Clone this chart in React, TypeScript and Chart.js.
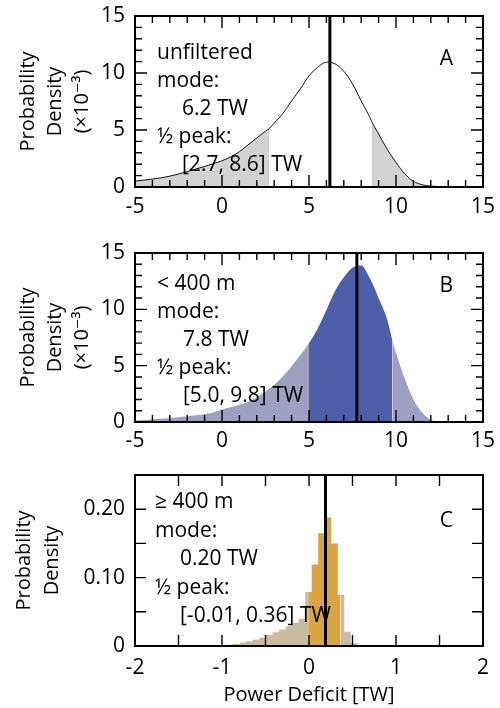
import { useEffect, useRef } from 'react';
import { Chart, registerables } from 'chart.js';

Chart.register(...registerables);

const FONT = "'Open Sans', 'DejaVu Sans', sans-serif";

// ---------- Panel A: unfiltered ----------
const aX = [-5, -4.5, -4, -3.5, -3, -2.5, -2, -1.5, -1, -0.5, 0, 0.5, 1, 1.5, 2, 2.5, 2.7, 3, 3.5, 4, 4.5, 5, 5.5, 6, 6.5, 7, 7.5, 8, 8.5, 8.6, 9, 9.5, 10, 10.5, 11, 11.5, 12, 12.5, 13, 14, 15];
const aDensity = [0.52, 0.6, 0.7, 0.8, 0.95, 1.14, 1.35, 1.58, 1.8, 2.05, 2.3, 2.65, 3.1, 3.7, 4.3, 4.9, 5.1, 5.6, 6.45, 7.55, 8.6, 9.75, 10.5, 10.95, 10.8, 10.15, 9.05, 7.55, 6.1, 5.75, 4.65, 3.3, 2.15, 1.17, 0.5, 0.2, 0.08, 0.02, 0, 0, 0];
const aMode = 6.2;
const aHalfPeak = [2.7, 8.6];
const aNotes = ['unfiltered', 'mode:', '6.2 TW', '½ peak:', '[2.7, 8.6] TW'];

// ---------- Panel B: < 400 m ----------
const bX = [-5, -4.5, -4, -3.5, -3, -2.5, -2, -1.5, -1, -0.5, 0, 0.5, 1, 1.5, 2, 2.5, 3, 3.5, 4, 4.5, 5, 5.5, 6, 6.5, 7, 7.5, 8, 8.5, 9, 9.5, 9.8, 10, 10.5, 11, 11.5, 12, 12.5, 13, 15];
const bDensity = [0.14, 0.18, 0.23, 0.29, 0.36, 0.43, 0.51, 0.6, 0.68, 0.85, 1.1, 1.3, 1.52, 1.8, 2.2, 2.7, 3.3, 4.05, 4.95, 5.95, 7.0, 8.3, 9.95, 11.65, 12.85, 13.7, 13.9, 12.75, 11.0, 9.05, 7.2, 6.15, 3.85, 2.0, 0.85, 0.2, 0, 0, 0];
const bMode = 7.75;
const bHalfPeak = [5.0, 9.8];
const bNotes = ['< 400 m', 'mode:', '7.8 TW', '½ peak:', '[5.0, 9.8] TW'];

// ---------- Panel C: >= 400 m (histogram bins) ----------
const cEdges = [-0.944, -0.869, -0.794, -0.719, -0.644, -0.569, -0.494, -0.419, -0.344, -0.269, -0.194, -0.119, -0.044, 0.031, 0.106, 0.181, 0.256, 0.331, 0.406, 0.481, 0.556];
const cDensity = [0.002, 0.003, 0.005, 0.007, 0.009, 0.012, 0.016, 0.02, 0.024, 0.029, 0.034, 0.04, 0.079, 0.119, 0.165, 0.188, 0.15, 0.075, 0.021, 0.004];
const cMode = 0.19;
const cHalfPeak = [-0.01, 0.36];
const cNotes = ['≥ 400 m', 'mode:', '0.20 TW', '½ peak:', '[-0.01, 0.36] TW'];

// ---------- Ticks ----------
const abXTicks = [-5, 0, 5, 10, 15];
const abXMinor = [-4, -3, -2, -1, 1, 2, 3, 4, 6, 7, 8, 9, 11, 12, 13, 14];
const abYTicks = [0, 5, 10, 15];
const abYMinor = [1, 2, 3, 4, 6, 7, 8, 9, 11, 12, 13, 14];
const cXTicks = [-2, -1, 0, 1, 2];
const cXMinor = [-1.5, -0.5, 0.5, 1.5];
const cYTicks = [0, 0.1, 0.2];
const cYMinor = [0.05, 0.15];

type Pt = { x: number; y: number | null };

const CANVAS_W = 500;
const PAD_RIGHT = 17;
const Y_AXIS_W = 135;

function zipPoints(xs: number[], ys: number[]): Pt[] {
  return xs.map((x, i) => ({ x, y: ys[i] }));
}

function histPoints(edges: number[], vals: number[], bounds: number[]): Pt[] {
  const pts: Pt[] = [];
  for (let i = 0; i < vals.length; i++) {
    pts.push({ x: edges[i], y: vals[i] });
    for (const b of bounds) {
      if (b > edges[i] && b < edges[i + 1]) pts.push({ x: b, y: vals[i] });
    }
  }
  pts.push({ x: edges[vals.length], y: 0 });
  return pts;
}

interface NotesSpec {
  notes: string[];
  letter: string;
  textX: number;
  indentX: number;
  textY: number;
  lineStep: number;
  letterY: number;
}

function notesPlugin(p: NotesSpec) {
  return {
    id: 'panelNotes',
    afterDatasetsDraw(chart: any) {
      const ctx = chart.ctx as CanvasRenderingContext2D;
      const a = chart.chartArea;
      ctx.save();
      ctx.fillStyle = '#000';
      ctx.font = `21px ${FONT}`;
      ctx.textBaseline = 'alphabetic';
      ctx.textAlign = 'left';
      for (let i = 0; i < p.notes.length; i++) {
        const x = a.left + (i === 2 || i === 4 ? p.indentX : p.textX);
        ctx.fillText(p.notes[i], x, a.top + p.textY + i * p.lineStep);
      }
      ctx.textAlign = 'right';
      ctx.fillText(p.letter, a.right - 30, a.top + p.letterY);
      ctx.restore();
    },
  };
}

const setTicks = (vals: number[]) => (sc: any) => {
  sc.ticks = vals.map((value) => ({ value }));
};

const clearPad = (sc: any) => {
  sc.paddingLeft = 0;
  sc.paddingRight = 0;
  sc.paddingTop = 0;
  sc.paddingBottom = 0;
};

interface PanelSpec {
  canvasH: number;
  datasets: any[];
  xMin: number;
  xMax: number;
  yMax: number;
  xTicks: number[];
  xMinor: number[];
  yTicks: number[];
  yMinor: number[];
  majorLen: number;
  minorLen: number;
  yFmt: (v: number) => string;
  padTop: number;
  xHeight: number;
  xPad: number;
  yTitle: string[];
  yTitlePad: number;
  yTitleLH: string;
  xTitle?: string;
  notes: NotesSpec;
}

// Frame and inward tick marks, drawn as line datasets through the chart's own scales.
function frameDatasets(s: PanelSpec): any[] {
  const plotW = CANVAS_W - PAD_RIGHT - Y_AXIS_W;
  const plotH = s.canvasH - s.padTop - s.xHeight;
  const ux = (s.xMax - s.xMin) / plotW;
  const uy = s.yMax / plotH;
  const ticks: Pt[] = [];
  const addV = (v: number, len: number) => {
    ticks.push({ x: v, y: 0 }, { x: v, y: len * uy }, { x: v, y: null });
    ticks.push({ x: v, y: s.yMax }, { x: v, y: s.yMax - len * uy }, { x: v, y: null });
  };
  const addH = (v: number, len: number) => {
    ticks.push({ x: s.xMin, y: v }, { x: s.xMin + len * ux, y: v }, { x: s.xMin, y: null });
    ticks.push({ x: s.xMax, y: v }, { x: s.xMax - len * ux, y: v }, { x: s.xMax, y: null });
  };
  s.xTicks.forEach((v) => addV(v, s.majorLen));
  s.xMinor.forEach((v) => addV(v, s.minorLen));
  s.yTicks.forEach((v) => addH(v, s.majorLen));
  s.yMinor.forEach((v) => addH(v, s.minorLen));
  const common = {
    fill: false,
    pointRadius: 0,
    tension: 0,
    borderColor: '#000',
    spanGaps: false,
    clip: false,
    order: -1,
  };
  return [
    { ...common, data: ticks, borderWidth: 1.4, borderCapStyle: 'butt' },
    {
      ...common,
      data: [
        { x: s.xMin, y: 0 },
        { x: s.xMax, y: 0 },
        { x: s.xMax, y: s.yMax },
        { x: s.xMin, y: s.yMax },
        { x: s.xMin, y: 0 },
        { x: s.xMax, y: 0 },
      ],
      borderWidth: 2,
      borderJoinStyle: 'miter',
      borderCapStyle: 'square',
    },
  ];
}

function makeConfig(s: PanelSpec): any {
  return {
    type: 'line',
    data: { datasets: [...s.datasets, ...frameDatasets(s)] },
    plugins: [notesPlugin(s.notes)],
    options: {
      responsive: false,
      animation: false,
      events: [],
      layout: { padding: { left: 0, right: PAD_RIGHT, top: s.padTop, bottom: 0 } },
      plugins: { legend: { display: false }, tooltip: { enabled: false } },
      elements: { point: { radius: 0 } },
      scales: {
        x: {
          type: 'linear',
          min: s.xMin,
          max: s.xMax,
          position: 'bottom',
          afterBuildTicks: setTicks(s.xTicks),
          afterFit: (sc: any) => {
            sc.height = s.xHeight;
            clearPad(sc);
          },
          ticks: {
            font: { size: 21, family: FONT },
            color: '#000',
            padding: s.xPad,
            autoSkip: false,
            maxRotation: 0,
            callback: (v: number) => String(v),
          },
          grid: { display: false, drawTicks: false },
          border: { display: false },
          title: s.xTitle
            ? { display: true, text: s.xTitle, color: '#000', font: { size: 20, family: FONT }, padding: { top: 0, bottom: 1 } }
            : { display: false },
        },
        y: {
          type: 'linear',
          min: 0,
          max: s.yMax,
          position: 'left',
          afterBuildTicks: setTicks(s.yTicks),
          afterFit: (sc: any) => {
            sc.width = Y_AXIS_W;
            clearPad(sc);
          },
          ticks: {
            font: { size: 21, family: FONT },
            color: '#000',
            padding: 10,
            autoSkip: false,
            callback: (v: number) => s.yFmt(v),
          },
          grid: { display: false, drawTicks: false },
          border: { display: false },
          title: {
            display: true,
            text: s.yTitle,
            color: '#000',
            font: { size: 20, family: FONT, lineHeight: s.yTitleLH },
            padding: { top: s.yTitlePad, bottom: 0 },
          },
        },
      },
    },
  };
}

function modeLine(x: number, top: number) {
  return {
    data: [
      { x, y: 0 },
      { x, y: top },
    ],
    borderColor: '#000',
    borderWidth: 3,
    pointRadius: 0,
    fill: false,
    order: 0,
  };
}

export default function App() {
  const refA = useRef<HTMLCanvasElement>(null);
  const refB = useRef<HTMLCanvasElement>(null);
  const refC = useRef<HTMLCanvasElement>(null);

  useEffect(() => {
    Chart.defaults.font.family = FONT;
    Chart.defaults.color = '#000';

    const gray = '#d1d2d4';
    const lightBlue = '#9da0c0';
    const darkBlue = '#4f5ea8';
    const tan = '#c8bba0';
    const orange = '#d9a442';

    const chartA = new Chart(
      refA.current as HTMLCanvasElement,
      makeConfig({
        canvasH: 232,
        datasets: [
          modeLine(aMode, 15),
          {
            data: zipPoints(aX, aDensity),
            borderColor: '#111',
            borderWidth: 1,
            backgroundColor: gray,
            fill: 'origin',
            cubicInterpolationMode: 'monotone',
            pointRadius: 0,
            order: 1,
            segment: {
              backgroundColor: (ctx: any) =>
                ctx.p1.parsed.x <= aHalfPeak[0] || ctx.p0.parsed.x >= aHalfPeak[1] ? gray : 'rgba(0,0,0,0)',
            },
          },
        ],
        xMin: -5,
        xMax: 15,
        yMax: 15,
        xTicks: abXTicks,
        xMinor: abXMinor,
        yTicks: abYTicks,
        yMinor: abYMinor,
        majorLen: 12,
        minorLen: 7,
        yFmt: (v) => String(v),
        padTop: 16,
        xHeight: 45,
        xPad: 7,
        yTitle: ['Probability', 'Density', '(×10⁻³)'],
        yTitlePad: 15,
        yTitleLH: '27px',
        notes: { notes: aNotes, letter: 'A', textX: 22, indentX: 47, textY: 43, lineStep: 28, letterY: 49 },
      })
    );

    const chartB = new Chart(
      refB.current as HTMLCanvasElement,
      makeConfig({
        canvasH: 228,
        datasets: [
          modeLine(bMode, 15),
          {
            data: zipPoints(bX, bDensity),
            borderColor: 'rgba(0,0,0,0)',
            borderWidth: 0,
            backgroundColor: lightBlue,
            fill: 'origin',
            cubicInterpolationMode: 'monotone',
            pointRadius: 0,
            order: 1,
            segment: {
              backgroundColor: (ctx: any) =>
                ctx.p0.parsed.x >= bHalfPeak[0] && ctx.p1.parsed.x <= bHalfPeak[1] ? darkBlue : lightBlue,
            },
          },
        ],
        xMin: -5,
        xMax: 15,
        yMax: 15,
        xTicks: abXTicks,
        xMinor: abXMinor,
        yTicks: abYTicks,
        yMinor: abYMinor,
        majorLen: 12,
        minorLen: 7,
        yFmt: (v) => String(v),
        padTop: 21,
        xHeight: 38,
        xPad: 6,
        yTitle: ['Probability', 'Density', '(×10⁻³)'],
        yTitlePad: 15,
        yTitleLH: '27px',
        notes: { notes: bNotes, letter: 'B', textX: 22, indentX: 48, textY: 37, lineStep: 28, letterY: 39 },
      })
    );

    const chartC = new Chart(
      refC.current as HTMLCanvasElement,
      makeConfig({
        canvasH: 248,
        datasets: [
          modeLine(cMode, 0.25),
          {
            data: histPoints(cEdges, cDensity, cHalfPeak),
            borderColor: 'rgba(0,0,0,0)',
            borderWidth: 0,
            backgroundColor: tan,
            fill: 'origin',
            stepped: true,
            pointRadius: 0,
            order: 1,
            segment: {
              backgroundColor: (ctx: any) =>
                ctx.p0.parsed.x >= cHalfPeak[0] && ctx.p0.parsed.x < cHalfPeak[1] ? orange : tan,
            },
          },
        ],
        xMin: -2,
        xMax: 2,
        yMax: 0.25,
        xTicks: cXTicks,
        xMinor: cXMinor,
        yTicks: cYTicks,
        yMinor: cYMinor,
        majorLen: 11,
        minorLen: 11,
        yFmt: (v) => (v === 0 ? '0' : v.toFixed(2)),
        padTop: 15,
        xHeight: 62,
        xPad: 9,
        yTitle: ['Probability', 'Density'],
        yTitlePad: 10,
        yTitleLH: '28px',
        xTitle: 'Power Deficit [TW]',
        notes: { notes: cNotes, letter: 'C', textX: 20, indentX: 45, textY: 33, lineStep: 28.5, letterY: 52 },
      })
    );

    return () => {
      chartA.destroy();
      chartB.destroy();
      chartC.destroy();
    };
  }, []);

  return (
    <div style={{ position: 'absolute', left: 0, top: 0, width: 500, height: 708, background: '#fff' }}>
      <canvas ref={refA} width={500} height={232} style={{ position: 'absolute', left: 0, top: 0 }} />
      <canvas ref={refB} width={500} height={228} style={{ position: 'absolute', left: 0, top: 232 }} />
      <canvas ref={refC} width={500} height={248} style={{ position: 'absolute', left: 0, top: 460 }} />
    </div>
  );
}
